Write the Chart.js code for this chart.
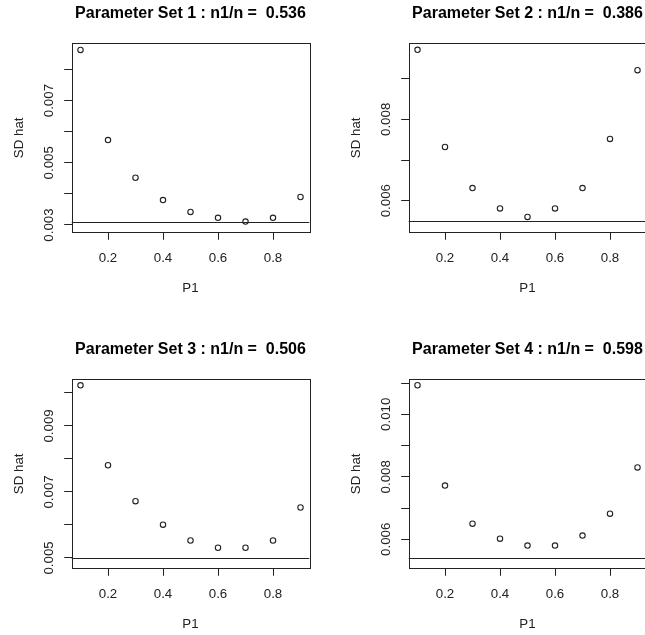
<!DOCTYPE html>
<html lang="en">
<head>
<meta charset="UTF-8" />
<title>SD hat by P1</title>
<script src="https://cdn.jsdelivr.net/npm/chart.js@4.4.1/dist/chart.umd.min.js"></script>
<style>
  html, body { margin: 0; padding: 0; background: #fff; overflow: hidden; }
  canvas { position: absolute; }
</style>
</head>
<body>
<canvas id="set1" width="337" height="336" style="left:0;top:0"></canvas>
<canvas id="set2" width="337" height="336" style="left:337px;top:0"></canvas>
<canvas id="set3" width="337" height="336" style="left:0;top:336px"></canvas>
<canvas id="set4" width="337" height="336" style="left:337px;top:336px"></canvas>
<script>
// P1 grid and estimated SD for each parameter set
const p1 = [0.1, 0.2, 0.3, 0.4, 0.5, 0.6, 0.7, 0.8, 0.9];
const sdSet1 = [0.00863, 0.00573, 0.00452, 0.00380, 0.00342, 0.00323, 0.00311, 0.00323, 0.00390];
const sdSet2 = [0.00971, 0.00732, 0.00631, 0.00581, 0.00560, 0.00581, 0.00631, 0.00752, 0.00921];
const sdSet3 = [0.01023, 0.00781, 0.00672, 0.00601, 0.00553, 0.00531, 0.00531, 0.00553, 0.00653];
const sdSet4 = [0.01093, 0.00772, 0.00650, 0.00602, 0.00580, 0.00580, 0.00612, 0.00682, 0.00830];
const ratios = ['0.536', '0.386', '0.506', '0.598'];
// reference level drawn as a horizontal line
const refLines = [0.00309, 0.00549, 0.00500, 0.00541];
// axis ranges
const xRange = [0.068, 0.932];
const yMin = [0.002765, 0.005223, 0.004687, 0.005072];
const yMax = [0.008843, 0.009870, 0.010414, 0.011120];
// tick positions and which of them carry a label
const xTicks = [0.2, 0.4, 0.6, 0.8];
const yTicks = [
  [0.003, 0.004, 0.005, 0.006, 0.007, 0.008],
  [0.006, 0.007, 0.008, 0.009],
  [0.005, 0.006, 0.007, 0.008, 0.009, 0.010],
  [0.006, 0.007, 0.008, 0.009, 0.010, 0.011]
];
const yLabelled = [
  [0.003, 0.005, 0.007],
  [0.006, 0.008],
  [0.005, 0.007, 0.009],
  [0.006, 0.008, 0.010]
];

const FONT = "'Liberation Sans', Arial, sans-serif";
const INK = '#222';

// frame around the plot region plus the reference line
const framePlugin = {
  id: 'frame',
  afterDatasetsDraw(chart, args, opts) {
    const { ctx, chartArea: a } = chart;
    const y = Math.round(chart.scales.y.getPixelForValue(opts.ref)) + 0.5;
    ctx.save();
    ctx.strokeStyle = INK;
    ctx.lineWidth = 1;
    ctx.beginPath();
    ctx.moveTo(a.left, y);
    ctx.lineTo(a.right, y);
    ctx.stroke();
    ctx.strokeRect(Math.round(a.left) + 0.5, Math.round(a.top) + 0.5,
      Math.round(a.right - a.left), Math.round(a.bottom - a.top));
    ctx.restore();
  }
};

function makePanel(id, i, values) {
  const near = (a, b) => Math.abs(a - b) < 1e-9;
  new Chart(document.getElementById(id), {
    type: 'scatter',
    data: {
      datasets: [{
        data: p1.map((x, k) => ({ x: x, y: values[k] })),
        pointStyle: 'circle',
        pointRadius: 2.7,
        pointBorderWidth: 1.1,
        borderColor: INK,
        backgroundColor: 'rgba(0,0,0,0)'
      }]
    },
    options: {
      responsive: false,
      animation: false,
      events: [],
      layout: { padding: { top: 0, left: 0, bottom: 0, right: 27.7 } },
      plugins: {
        legend: { display: false },
        tooltip: { enabled: false },
        title: {
          display: true,
          fullSize: false,
          text: 'Parameter Set ' + (i + 1) + ' : n1/n =  ' + ratios[i],
          color: '#000',
          font: { family: FONT, size: 16, weight: 'bold', lineHeight: 1.2 },
          padding: { top: 3.8, bottom: 20.3 }
        },
        frame: { ref: refLines[i] }
      },
      scales: {
        x: {
          type: 'linear',
          min: xRange[0],
          max: xRange[1],
          afterBuildTicks: s => { s.ticks = xTicks.map(v => ({ value: v })); },
          afterFit: s => { s.height = 103.7; },
          ticks: {
            color: INK,
            padding: 10.5,
            font: { family: FONT, size: 13.3 },
            callback: v => v.toFixed(1)
          },
          grid: { drawOnChartArea: false, tickLength: 7.5, color: INK, lineWidth: 1 },
          border: { display: false },
          title: {
            display: true,
            text: 'P1',
            color: INK,
            font: { family: FONT, size: 13.3, lineHeight: 1.2 },
            padding: { top: 0, bottom: 39.7 }
          }
        },
        y: {
          type: 'linear',
          min: yMin[i],
          max: yMax[i],
          afterBuildTicks: s => { s.ticks = yTicks[i].map(v => ({ value: v })); },
          afterFit: s => { s.width = 71.7; },
          ticks: {
            color: INK,
            minRotation: 90,
            maxRotation: 90,
            crossAlign: 'center',
            padding: -1.5,
            font: { family: FONT, size: 13.3 },
            callback: v => yLabelled[i].some(t => near(t, v)) ? v.toFixed(3) : ''
          },
          grid: { drawOnChartArea: false, tickLength: 7.5, color: INK, lineWidth: 1 },
          border: { display: false },
          title: {
            display: true,
            text: 'SD hat',
            color: INK,
            font: { family: FONT, size: 13.3, lineHeight: 1.2 },
            padding: { top: 11, bottom: 0 }
          }
        }
      }
    },
    plugins: [framePlugin]
  });
}

makePanel('set1', 0, sdSet1);
makePanel('set2', 1, sdSet2);
makePanel('set3', 2, sdSet3);
makePanel('set4', 3, sdSet4);
</script>
</body>
</html>
